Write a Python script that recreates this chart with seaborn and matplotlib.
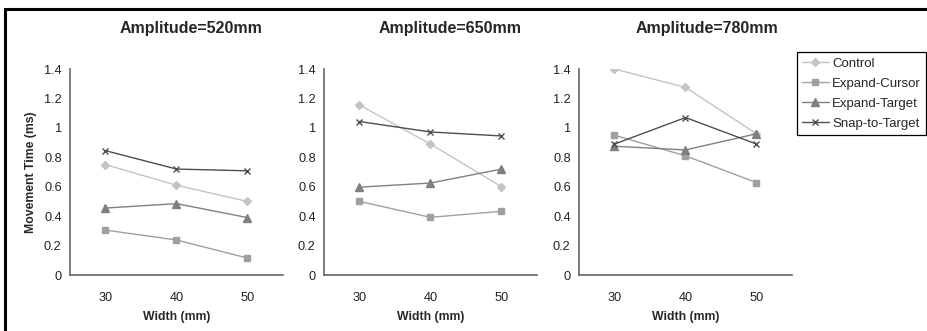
import numpy as np
import pandas as pd
import matplotlib
matplotlib.use("Agg")
import matplotlib.pyplot as plt
import seaborn as sns
from matplotlib.patches import Rectangle

sns.set_style("white")
plt.rcParams['font.family'] = ['Liberation Sans', 'DejaVu Sans']

widths = [30, 40, 50]
amplitudes = ["Amplitude=520mm", "Amplitude=650mm", "Amplitude=780mm"]
techniques = ["Control", "Expand-Cursor", "Expand-Target", "Snap-to-Target"]

# movement time per technique, one list per amplitude (values at widths 30, 40, 50)
control = [[0.75, 0.61, 0.50], [1.155, 0.89, 0.60], [1.40, 1.275, 0.96]]
expand_cursor = [[0.305, 0.238, 0.115], [0.50, 0.392, 0.433], [0.95, 0.81, 0.628]]
expand_target = [[0.455, 0.485, 0.39], [0.597, 0.625, 0.72], [0.875, 0.85, 0.96]]
snap_to_target = [[0.845, 0.72, 0.708], [1.043, 0.972, 0.945], [0.89, 1.07, 0.89]]

series = dict(zip(techniques, [control, expand_cursor, expand_target, snap_to_target]))

rows = []
for a_idx, amp in enumerate(amplitudes):
    for tech, vals in series.items():
        for w, v in zip(widths, vals[a_idx]):
            rows.append({"Amplitude": amp, "Technique": tech, "Width": w, "Time": v})
df = pd.DataFrame(rows)

palette = {"Control": "#c4c4c4", "Expand-Cursor": "#a0a0a0",
           "Expand-Target": "#808080", "Snap-to-Target": "#4e4e4e"}
markers = {"Control": "D", "Expand-Cursor": "s", "Expand-Target": "^", "Snap-to-Target": "x"}
msizes = {"Control": 3.8, "Expand-Cursor": 4.8, "Expand-Target": 5.2, "Snap-to-Target": 4.0}

fig = plt.figure(figsize=(9.28, 3.31), dpi=100)
fig.patches.append(Rectangle((5.5 / 928, -0.1), 1.0, 1 - 9 / 331 + 0.1,
                             transform=fig.transFigure, fill=False,
                             edgecolor="black", linewidth=2.2))

lefts = [70, 324, 579]
title_centers = [191, 450, 707]
axes = []
for i, amp in enumerate(amplitudes):
    ax = fig.add_axes([lefts[i] / 928, 1 - 275 / 331, 213 / 928, 206 / 331])
    sub = df[df["Amplitude"] == amp]
    for tech in techniques:
        d = sub[sub["Technique"] == tech]
        sns.lineplot(data=d, x="Width", y="Time", color=palette[tech],
                     marker=markers[tech], markersize=msizes[tech],
                     markeredgecolor=palette[tech], markeredgewidth=1.0,
                     linewidth=1.0, label=tech, legend=(i == 2), ax=ax)
    ax.set_xlim(25, 55)
    ax.set_ylim(0, 1.4)
    ax.set_yticks(np.arange(0, 1.41, 0.2))
    ax.set_yticklabels(["0", "0.2", "0.4", "0.6", "0.8", "1", "1.2", "1.4"])
    ax.set_xticks(widths)
    ax.set_xticks([35, 45, 55], minor=True)
    ax.tick_params(axis="x", which="major", length=0, labelsize=9.2, pad=12, colors="#222222")
    ax.tick_params(axis="x", which="minor", length=4, width=1, color="#666666", direction="out")
    ax.tick_params(axis="y", length=3, width=1, direction="out",
                   labelsize=9.2, pad=3, labelcolor="#222222", color="#666666")
    for s in ["top", "right"]:
        ax.spines[s].set_visible(False)
    for s in ["left", "bottom"]:
        ax.spines[s].set_color("#666666")
        ax.spines[s].set_linewidth(1.2)
    ax.set_xlabel("Width (mm)", fontsize=8.8, fontweight="bold", labelpad=5)
    if i == 0:
        ax.set_ylabel("Movement Time (ms)", fontsize=8.8, fontweight="bold", labelpad=5)
    else:
        ax.set_ylabel("")
    tx = (title_centers[i] - lefts[i]) / 213
    ax.set_title(amp, fontsize=11.5, fontweight="bold", pad=26, x=tx)
    axes.append(ax)

handles, labels = axes[2].get_legend_handles_labels()
if axes[2].get_legend() is not None:
    axes[2].get_legend().remove()
fig.legend(handles, labels, loc="upper left", bbox_to_anchor=(797 / 928, 1 - 52 / 331),
           frameon=True, fancybox=False, edgecolor="black", framealpha=1,
           fontsize=9.5, handlelength=2.0, handletextpad=0.25, borderpad=0.4,
           labelspacing=0.6, borderaxespad=0)
fig.legends[0].get_frame().set_linewidth(0.9)

fig.savefig("out.png", dpi=100)
